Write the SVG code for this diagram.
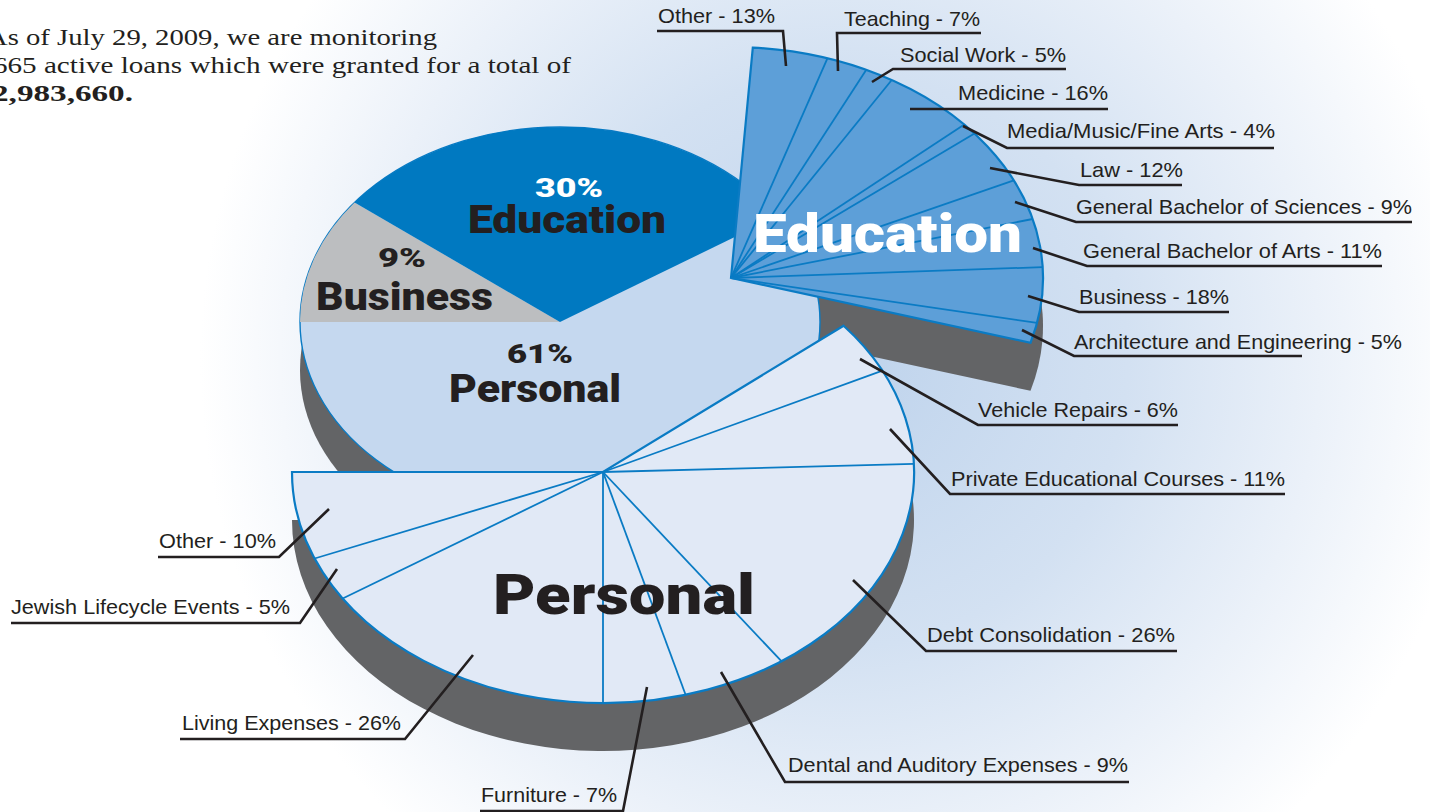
<svg xmlns="http://www.w3.org/2000/svg" width="1430" height="812" viewBox="0 0 1430 812">
<defs>
<radialGradient id="bg" gradientUnits="userSpaceOnUse" cx="840" cy="360" r="640">
<stop offset="0" stop-color="#bed3ec"/>
<stop offset="0.45" stop-color="#d3e1f2"/>
<stop offset="0.75" stop-color="#ebf1f9"/>
<stop offset="1" stop-color="#ffffff"/>
</radialGradient>
<path id="fanShape" d="M731,278 L752.8,47.6 A312 231 0 0 1 1030.5,342.8 Z"/>
<path id="perShape" d="M603,472 L292,472 A311 231 0 1 0 843.6,325.7 Z"/>
</defs>
<style>
.shadow{fill:#636466}
.lbl{font-family:"Liberation Sans",Arial,Helvetica,sans-serif;font-size:21px;fill:#231f20}
.lead{fill:none;stroke:#231f20;stroke-width:2.6}
.div{stroke:#0a7bc4;stroke-width:1.8;fill:none}
.big{font-family:Roboto,"Liberation Sans",Arial,sans-serif;font-weight:900}
.serif{font-family:"Liberation Serif","Times New Roman",serif;font-size:23px;fill:#231f20}
</style>
<rect x="0" y="0" width="1430" height="812" fill="url(#bg)"/>

<g id="intro-text">
<text class="serif" x="-13" y="45" textLength="450" lengthAdjust="spacingAndGlyphs">As of July 29, 2009, we are monitoring</text>
<text class="serif" x="-7" y="73" textLength="578" lengthAdjust="spacingAndGlyphs">665 active loans which were granted for a total of</text>
<text class="serif" x="-8" y="101" font-weight="bold" textLength="141" lengthAdjust="spacingAndGlyphs">2,983,660.</text>
</g>

<g id="shadows-back">
<ellipse class="shadow" cx="560" cy="370" rx="260" ry="195"/>
<use href="#fanShape" class="shadow" transform="translate(0,48)"/>
</g>

<g id="main-pie">
<ellipse cx="560" cy="322" rx="260" ry="195" fill="#c5d8ef" stroke="#0a7bc4" stroke-width="1.4"/>
<path d="M560,322 L300,322 A260 195 0 0 1 354.6,202.5 Z" fill="#bcbec0"/>
<path d="M560,322 L354.6,202.5 A260 195 0 0 1 778,216 Z" fill="#0079c1"/>
<text class="big" x="569" y="197" font-size="25" fill="#ffffff" text-anchor="middle" textLength="68" lengthAdjust="spacingAndGlyphs">30%</text>
<text class="big" x="567" y="233" font-size="38" fill="#231f20" text-anchor="middle" textLength="198" lengthAdjust="spacingAndGlyphs">Education</text>
<text class="big" x="402" y="267" font-size="25" fill="#231f20" text-anchor="middle" textLength="48" lengthAdjust="spacingAndGlyphs">9%</text>
<text class="big" x="404.5" y="310" font-size="38" fill="#231f20" text-anchor="middle" textLength="177" lengthAdjust="spacingAndGlyphs">Business</text>
<text class="big" x="540" y="363" font-size="25" fill="#231f20" text-anchor="middle" textLength="66" lengthAdjust="spacingAndGlyphs">61%</text>
<text class="big" x="535" y="402" font-size="38" fill="#231f20" text-anchor="middle" textLength="172" lengthAdjust="spacingAndGlyphs">Personal</text>
</g>

<g id="education-fan">
<use href="#fanShape" fill="#5d9fd8" stroke="#0a7bc4" stroke-width="2.2"/>
<g class="div">
<line x1="731" y1="278" x2="827.4" y2="58.3"/>
<line x1="731" y1="278" x2="866.3" y2="69.8"/>
<line x1="731" y1="278" x2="891.7" y2="80.0"/>
<line x1="731" y1="278" x2="964.3" y2="124.6"/>
<line x1="731" y1="278" x2="974.5" y2="133.6"/>
<line x1="731" y1="278" x2="1013.8" y2="180.4"/>
<line x1="731" y1="278" x2="1032.6" y2="219.0"/>
<line x1="731" y1="278" x2="1042.7" y2="267.1"/>
<line x1="731" y1="278" x2="1037.1" y2="322.9"/>
</g>
<text class="big" x="887.5" y="252" font-size="53" fill="#ffffff" text-anchor="middle" textLength="269" lengthAdjust="spacingAndGlyphs">Education</text>
</g>

<g id="personal-piece">
<use href="#perShape" class="shadow" transform="translate(0,48)"/>
<use href="#perShape" fill="#e1e9f6" stroke="#0a7bc4" stroke-width="2.2"/>
<g class="div">
<line x1="603" y1="472" x2="314.6" y2="558.5"/>
<line x1="603" y1="472" x2="342.7" y2="598.5"/>
<line x1="603" y1="472" x2="603" y2="703"/>
<line x1="603" y1="472" x2="685.6" y2="694.7"/>
<line x1="603" y1="472" x2="781.4" y2="661.2"/>
<line x1="603" y1="472" x2="913.8" y2="463.9"/>
<line x1="603" y1="472" x2="882.5" y2="370.7"/>
</g>
<text class="big" x="624" y="614" font-size="56" fill="#231f20" text-anchor="middle" textLength="262" lengthAdjust="spacingAndGlyphs">Personal</text>
</g>

<g id="connectors">
<polyline class="lead" points="786,66 783,31 657,31"/>
<polyline class="lead" points="838,71 837,33 981,33"/>
<polyline class="lead" points="872,82 893,69 1066,69"/>
<polyline class="lead" points="910,109 1108,109"/>
<polyline class="lead" points="963,126 1007,148 1274,148"/>
<polyline class="lead" points="990,168 1079,185 1182,185"/>
<polyline class="lead" points="1015,202 1076,222 1412,222"/>
<polyline class="lead" points="1033,248 1087,266 1382,266"/>
<polyline class="lead" points="1028,296 1079,312 1229,312"/>
<polyline class="lead" points="1022,330 1074,356 1302,356"/>
<polyline class="lead" points="860,359 978,425 1178,425"/>
<polyline class="lead" points="890,429 950,494 1285,494"/>
<polyline class="lead" points="853,580 926,651 1177,651"/>
<polyline class="lead" points="721,672 785,782 1129,782"/>
<polyline class="lead" points="647,687 623,811 480,811"/>
<polyline class="lead" points="473,655 405,739 180,739"/>
<polyline class="lead" points="337,569 300,623 11,623"/>
<polyline class="lead" points="329,509 279,557 158,557"/>
</g>

<g id="labels">
<text class="lbl" x="658" y="23" textLength="117" lengthAdjust="spacingAndGlyphs">Other - 13%</text>
<text class="lbl" x="844" y="26" textLength="136" lengthAdjust="spacingAndGlyphs">Teaching - 7%</text>
<text class="lbl" x="900" y="62" textLength="166" lengthAdjust="spacingAndGlyphs">Social Work - 5%</text>
<text class="lbl" x="958" y="100" textLength="150" lengthAdjust="spacingAndGlyphs">Medicine - 16%</text>
<text class="lbl" x="1007" y="138" textLength="268" lengthAdjust="spacingAndGlyphs">Media/Music/Fine Arts - 4%</text>
<text class="lbl" x="1080" y="177" textLength="103" lengthAdjust="spacingAndGlyphs">Law - 12%</text>
<text class="lbl" x="1076" y="214" textLength="336" lengthAdjust="spacingAndGlyphs">General Bachelor of Sciences - 9%</text>
<text class="lbl" x="1083" y="258" textLength="299" lengthAdjust="spacingAndGlyphs">General Bachelor of Arts - 11%</text>
<text class="lbl" x="1079" y="304" textLength="150" lengthAdjust="spacingAndGlyphs">Business - 18%</text>
<text class="lbl" x="1074" y="349" textLength="328" lengthAdjust="spacingAndGlyphs">Architecture and Engineering - 5%</text>
<text class="lbl" x="978" y="417" textLength="200" lengthAdjust="spacingAndGlyphs">Vehicle Repairs - 6%</text>
<text class="lbl" x="951" y="486" textLength="334" lengthAdjust="spacingAndGlyphs">Private Educational Courses - 11%</text>
<text class="lbl" x="927" y="642" textLength="248" lengthAdjust="spacingAndGlyphs">Debt Consolidation - 26%</text>
<text class="lbl" x="788" y="772" textLength="340" lengthAdjust="spacingAndGlyphs">Dental and Auditory Expenses - 9%</text>
<text class="lbl" x="481" y="802" textLength="136" lengthAdjust="spacingAndGlyphs">Furniture - 7%</text>
<text class="lbl" x="182" y="730" textLength="219" lengthAdjust="spacingAndGlyphs">Living Expenses - 26%</text>
<text class="lbl" x="11" y="614" textLength="279" lengthAdjust="spacingAndGlyphs">Jewish Lifecycle Events - 5%</text>
<text class="lbl" x="159" y="548" textLength="117" lengthAdjust="spacingAndGlyphs">Other - 10%</text>
</g>
</svg>
